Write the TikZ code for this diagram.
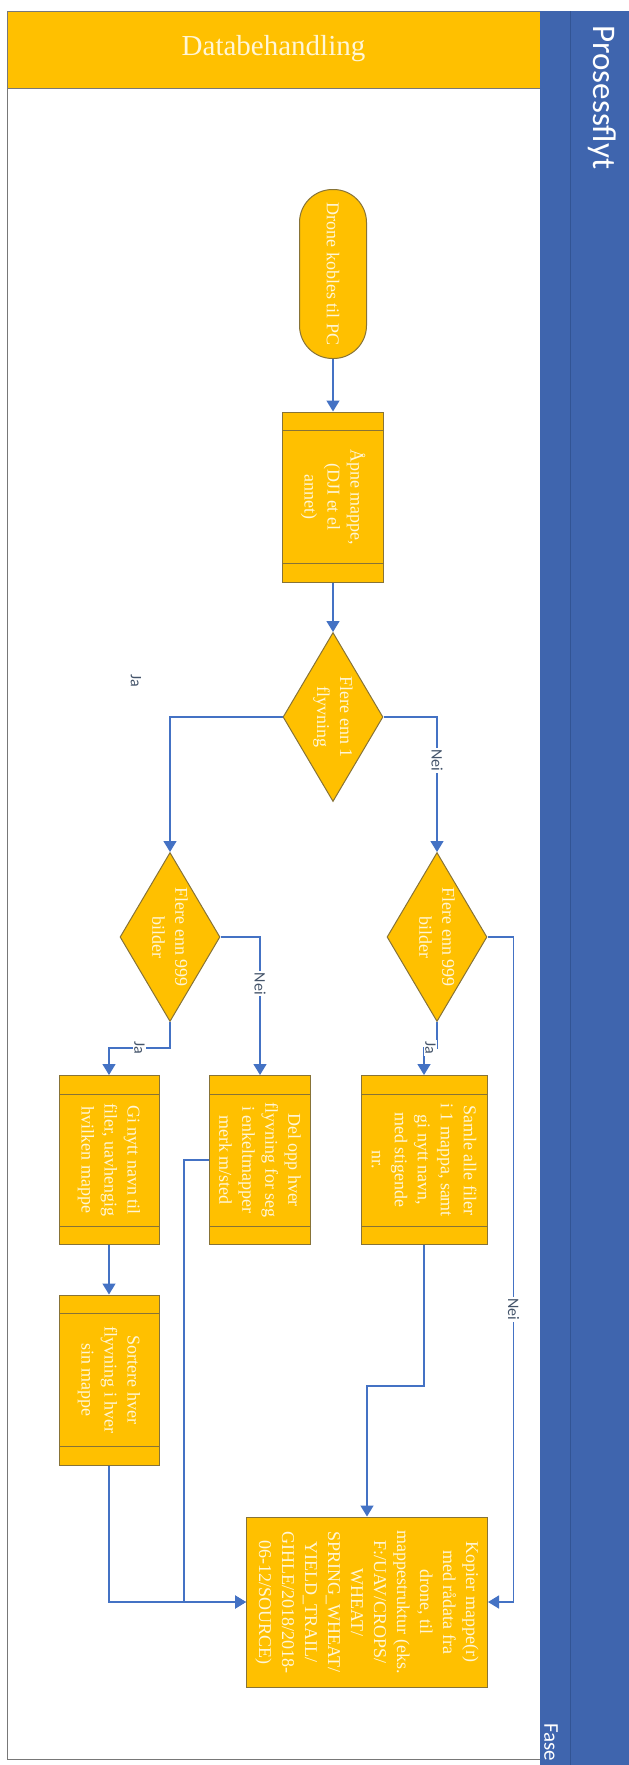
\documentclass[tikz,border=0pt]{standalone}
\usepackage{fontspec}
\setmainfont{Liberation Serif}
\newfontfamily\calibri{Carlito}
\usepackage{tikz}
\usetikzlibrary{
  calc,            % band lines in the predefined process boxes
  shapes.geometric % decision diamonds
}
\usetikzlibrary{arrows.meta}

\definecolor{laneyellow}{RGB}{255,192,0}
\definecolor{boxedge}{RGB}{135,115,55}
\definecolor{boxtext}{RGB}{255,246,214}
\definecolor{flowblue}{RGB}{68,114,196}
\definecolor{bandblue}{RGB}{63,101,174}
\definecolor{banddark}{RGB}{50,84,148}
\definecolor{framegray}{RGB}{120,120,120}
\definecolor{lbltext}{RGB}{68,84,106}

\tikzset{
  every node/.style={font=\fontsize{18}{23}\selectfont, text=boxtext},
  shapebase/.style={draw=boxedge, line width=1pt, fill=laneyellow, inner sep=2pt, align=center},
  terminal/.style={shapebase, rectangle, rounded corners=33pt, minimum width=169pt, minimum height=67pt},
  process/.style={shapebase, rectangle, minimum width=170pt},
  decision/.style={shapebase, diamond, inner sep=0pt, minimum width=169pt, minimum height=100pt},
  dectext/.style={align=center},
  flow/.style={draw=flowblue, line width=1.5pt, -{Triangle[length=11pt,width=13pt]}},
  lbl/.style={fill=white, text=lbltext, font=\calibri\fontsize{16}{16}\selectfont, inner sep=1.5pt}
}

\begin{document}
\begin{tikzpicture}[x=1pt, y=1pt]
  \useasboundingbox (0,0) rectangle (629,-1765);
  % swimlane
  \fill[laneyellow] (7,-11) rectangle (540,-88);
  \draw[framegray, line width=0.8pt] (7,-11) rectangle (540,-1759);
  \draw[framegray, line width=1pt] (7,-88) -- (540,-88);
  \node[font=\fontsize{29}{31}\selectfont] (lane) at (273.5,-49) {Databehandling};
  \fill[bandblue] (540,-11) rectangle (629,-1765);
  \draw[banddark, line width=1pt] (570,-11) -- (570,-1765);
  \node[rotate=-90, anchor=west, text=white, font=\calibri\fontsize{33}{36}\selectfont] (title) at (602,-22) {Prosessflyt};
  \node[rotate=-90, anchor=west, text=white, font=\calibri\fontsize{21}{22}\selectfont] (fase) at (551,-1720) {Fase};

  % flowchart, drawn sideways
  \begin{scope}[rotate=-90, transform shape]
    \node[terminal] (start) at (274,333) {Drone kobles til PC};
    \node[process, minimum height=101pt] (open) at (497,333) {Åpne mappe,\\(DJI et el\\annet)};
    \node[decision] (dec1) at (717,333) {};
    \node[dectext] (dec1txt) at (dec1) {Flere enn 1\\flyvning};
    \node[decision] (dec2) at (937,437) {};
    \node[dectext] (dec2txt) at (dec2) {Flere enn 999\\bilder};
    \node[decision] (dec3) at (937,170) {};
    \node[dectext] (dec3txt) at (dec3) {Flere enn 999\\bilder};
    \node[process, minimum width=169pt, minimum height=126pt] (samle) at (1160,424)
      {Samle alle filer\\i 1 mappa, samt\\gi nytt navn,\\med stigende\\nr.};
    \node[process, minimum width=169pt, minimum height=101pt] (delopp) at (1160,260)
      {Del opp hver\\flyvning for seg\\i enkeltmapper\\merk m/sted};
    \node[process, minimum width=169pt, minimum height=100pt] (ginavn) at (1160,109)
      {Gi nytt navn til\\filer, uavhengig\\hvilken mappe};
    \node[process, minimum height=100pt] (sortere) at (1380,109)
      {Sortere hver\\flyvning i hver\\sin mappe};
    \node[process, minimum height=241pt] (kopier) at (1602,367)
      {Kopier mappe(r)\\med rådata fra\\drone, til\\mappestruktur (eks.\\F:/UAV/CROPS/\\WHEAT/\\SPRING\_WHEAT/\\YIELD\_TRAIL/\\GIHLE/2018/2018-\\06-12/SOURCE)};
    \foreach \n in {open,samle,delopp,ginavn,sortere}{
      \draw[boxedge, line width=1pt] ($(\n.north west)!19pt!(\n.north east)$) -- ($(\n.south west)!19pt!(\n.south east)$)
        ($(\n.north east)!19pt!(\n.north west)$) -- ($(\n.south east)!19pt!(\n.south west)$);
    }

    \draw[flow] (start) -- (open);
    \draw[flow] (open) -- (dec1);
    \draw[flow] (dec1.north) |- node[lbl, pos=0.66] (nei1) {Nei} (dec2.west);
    \draw[flow] (dec1.south) |- (dec3.west);
    \node[lbl, fill=none] (ja1) at (681,136) {Ja};
    \draw[flow] (dec2.east) -- ++(26,0) |- node[lbl, pos=0.25] (ja2) {Ja} (samle.west);
    \draw[flow] (dec3.north) |- node[lbl, pos=0.67] (nei2) {Nei} (delopp.west);
    \draw[flow] (dec3.east) -- ++(26,0) |- node[lbl, pos=0.25] (ja3) {Ja} (ginavn.west);
    \draw[flow] (ginavn) -- (sortere);
    \draw[flow] (samle.east) -- ++(141,0) |- (kopier.west);
    \draw[flow] (dec2.north) -- ++(0,26) -| node[lbl, pos=0.28] (nei3) {Nei} (kopier.north);
    \draw[flow] (delopp.south) -- ++(0,-25) -| (kopier.south);
    \draw[flow] (sortere.east) -| (kopier.south);
  \end{scope}
\end{tikzpicture}
\end{document}
